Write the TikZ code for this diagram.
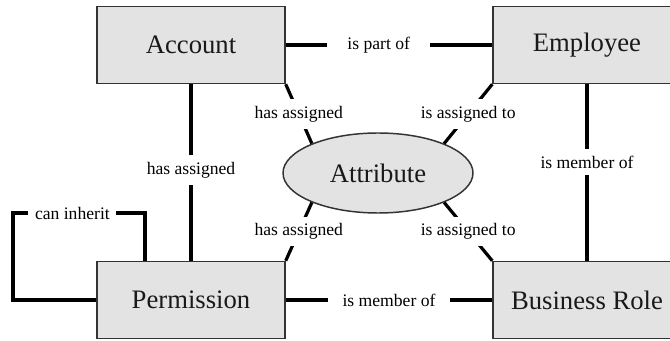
\documentclass[tikz,border=0pt]{standalone}
\usepackage{fontspec}
\setmainfont{Liberation Serif}
\usetikzlibrary{shapes.geometric}
\definecolor{boxgray}{HTML}{E3E3E3}
\begin{document}
\begin{tikzpicture}[x=0.75pt,y=-0.75pt,
  box/.style={draw=black!80, line width=1.1pt, fill=boxgray, minimum width=141pt,
    minimum height=57.75pt, inner sep=0pt, font=\fontsize{20}{24}\selectfont, text=black!90},
  ell/.style={ellipse, draw=black!80, line width=1.1pt, fill=boxgray, minimum width=142.5pt,
    minimum height=60pt, inner sep=0pt, font=\fontsize{20}{24}\selectfont, text=black!90},
  conn/.style={line width=2.4pt, draw=black},
  lbl/.style={fill=white, inner xsep=11pt, inner ysep=5pt, font=\fontsize{13.2}{15}\selectfont, text=black},
  lblsmall/.style={lbl, inner xsep=5pt}
]
\clip (0,0) rectangle (670,341);
\fill[white] (0,0) rectangle (670,341);
\node[box] (acc) at (191,45) {Account};
\node[box] (emp) at (587,45) {Employee};
\node[box] (perm) at (191,300) {Permission};
\node[box] (br) at (587,300) {Business Role};
\node[ell] (attr) at (378,173) {Attribute};
\coordinate (ci1) at (13,213);
\coordinate (ci2) at (145,213);

\draw[conn] (acc.east) -- node[lbl, pos=0.45, inner xsep=15pt]{is part of} (emp.west);
\draw[conn] (acc.south) -- node[lbl, pos=0.486]{has assigned} (perm.north);
\draw[conn] (emp.south) -- node[lbl, pos=0.44]{is member of} (br.north);
\draw[conn] (perm.east) -- node[lbl]{is member of} (br.west);
\draw[conn] (acc.south east) -- node[lbl]{has assigned} (attr.156);
\draw[conn] (emp.south west) -- node[lbl]{is assigned to} (attr.24);
\draw[conn] (perm.north east) -- node[lbl]{has assigned} (attr.204);
\draw[conn] (br.north west) -- node[lbl]{is assigned to} (attr.336);
\draw[conn] (perm.west) -| (ci1) -- node[lblsmall, pos=0.45]{can inherit} (ci2) -- (ci2 |- perm.north);
\end{tikzpicture}
\end{document}
